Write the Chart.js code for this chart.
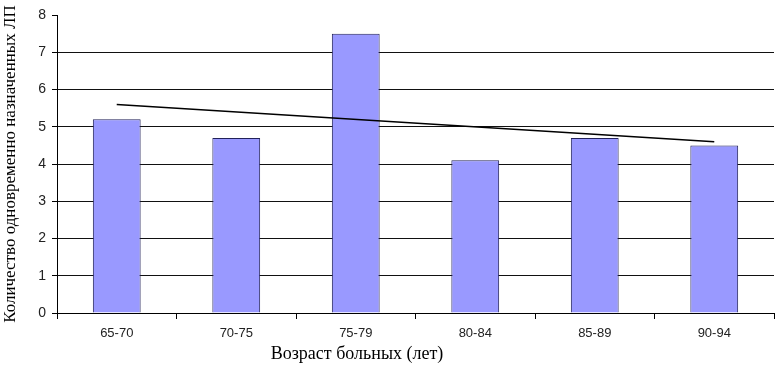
<!DOCTYPE html>
<html>
<head>
<meta charset="utf-8">
<script src="https://cdn.jsdelivr.net/npm/chart.js@4"></script>
<style>
  html, body { margin: 0; padding: 0; background: #fff; }
  #wrap { width: 775px; height: 369px; position: relative; }
</style>
</head>
<body>
<div id="wrap"><canvas id="ageChart"></canvas></div>
<script>
const ageGroups = ["65-70", "70-75", "75-79", "80-84", "85-89", "90-94"];
const drugCounts = [5.2, 4.7, 7.5, 4.1, 4.7, 4.5];
// trend line: only its two ends
const trendValues = [5.6, null, null, null, null, 4.6];
const yTicks = [0, 1, 2, 3, 4, 5, 6, 7, 8];

const yTitle = "Количество одновременно назначенных ЛП";
const xTitle = "Возраст больных (лет)";

const xTitlePlugin = {
  id: "xTitle",
  afterDraw(chart) {
    const ctx = chart.ctx;
    ctx.save();
    ctx.font = "18px 'Liberation Serif'";
    ctx.fillStyle = "#000";
    ctx.textAlign = "center";
    ctx.textBaseline = "middle";
    ctx.fillText(xTitle, 357, 354);
    ctx.restore();
  }
};

const config = {
  type: "bar",
  data: {
    labels: ageGroups,
    datasets: [
      {
        type: "line",
        data: trendValues,
        borderColor: "#000",
        borderWidth: 1.5,
        pointRadius: 0,
        spanGaps: true,
        order: 0,
      },
      {
        data: drugCounts,
        backgroundColor: "#9999ff",
        borderColor: "#22225a",
        borderWidth: 1,
        categoryPercentage: 1,
        barPercentage: 0.4,
        order: 1,
      },
    ],
  },
  options: {
    responsive: true,
    maintainAspectRatio: false,
    animation: false,
    layout: { padding: { top: 15, right: 1, left: 0, bottom: 0 } },
    plugins: { legend: { display: false }, tooltip: { enabled: false } },
    scales: {
      x: {
        grid: {
          offset: true,
          drawOnChartArea: false,
          tickLength: 6,
          tickColor: "#000",
        },
        border: { color: "#000", width: 1 },
        ticks: {
          color: "#222",
          font: { family: "'Liberation Sans'", size: 13 },
          padding: 7,
        },
        afterFit: (s) => { s.height = 56; },
      },
      y: {
        min: 0,
        max: 8,
        afterBuildTicks: (s) => { s.ticks = yTicks.map((v) => ({ value: v })); },
        grid: {
          color: (c) => (c.tick && c.tick.value === 8 ? "rgba(0,0,0,0)" : "#111"),
          tickColor: "#000",
          tickLength: 5,
          lineWidth: 1,
        },
        border: { color: "#000", width: 1 },
        ticks: {
          color: "#222",
          font: { family: "'Liberation Sans'", size: 14 },
          padding: 6,
        },
        title: {
          display: true,
          text: yTitle,
          color: "#000",
          font: { family: "'Liberation Serif'", size: 17 },
          padding: { top: 0, bottom: 6 },
        },
        afterFit: (s) => { s.width = 57; },
      },
    },
  },
  plugins: [xTitlePlugin],
};

const canvas = document.getElementById("ageChart");
if (canvas) {
  new Chart(canvas, config);
} else {
  console.error("Canvas not found");
}
</script>
</body>
</html>
